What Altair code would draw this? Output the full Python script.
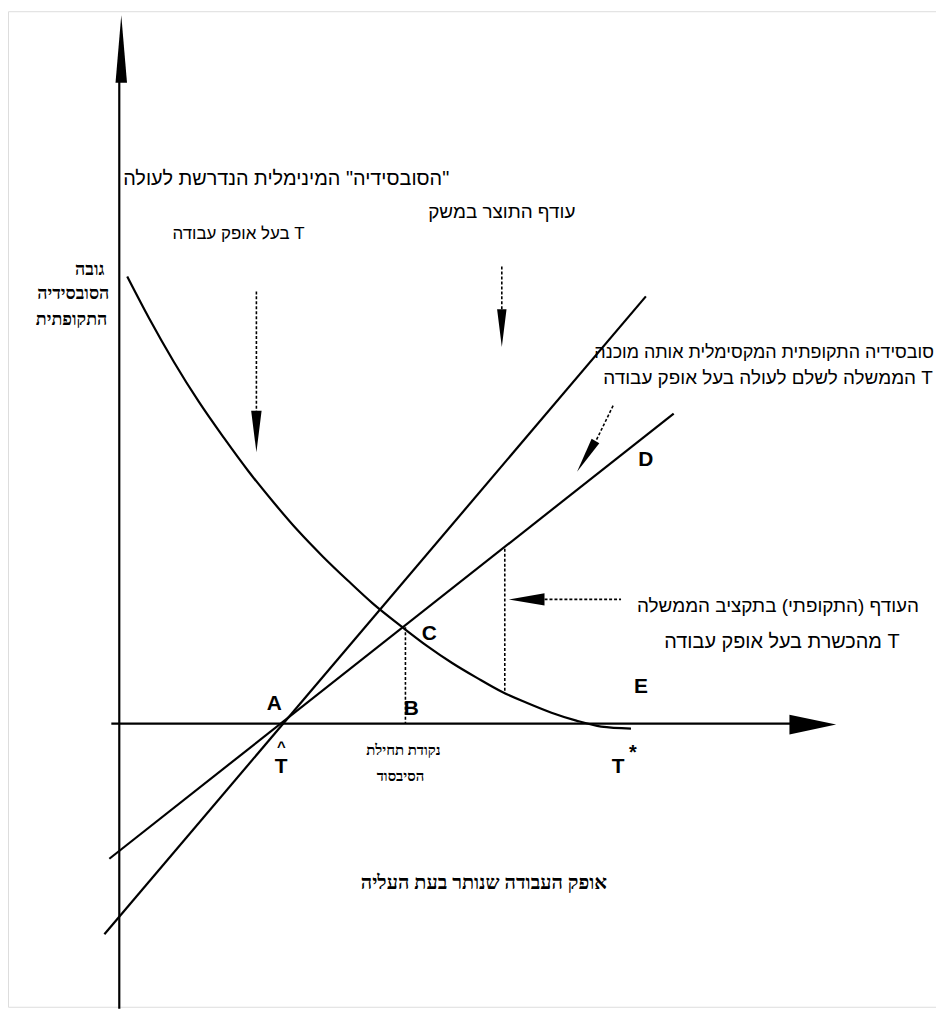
import altair as alt
import pandas as pd

# ---------------- data (diagram coordinates: origin at the axes' crossing) -------------
# declining curve: "minimum subsidy" required
curve_x = [8, 30, 55, 80, 105, 130, 155, 180, 205, 230, 255, 285, 310, 335, 360, 385, 410, 435, 460, 485, 515]
curve_y = [450, 408, 364, 324, 288, 254, 223, 194, 168, 144, 121, 97, 78, 61, 46, 32, 21, 11, 3, -3, -5]

# straight lines through A
steep_x = [-15, 530]
steep_y = [-212, 430]
flat_x = [-10, 558]
flat_y = [-136, 312]

# axes
yaxis_x = [0, 0]
yaxis_y = [-287, 650]
xaxis_x = [-8, 680]
xaxis_y = [0, 0]

# dashed guides: (x0, y0, x1, y1)
dashed_segments = [
    (288, 97, 288, 0),
    (388, 176, 388, 31),
    (138, 435, 138, 313),
    (385, 460, 385, 415),
    (497, 320, 480, 285),
    (428, 125, 505, 125),
]

# arrowheads
UP = "M0,-1L0.17,1L-0.17,1Z"
DOWN = "M0,1L0.25,-1L-0.25,-1Z"
RIGHT = "M1,0L-1,-0.42L-1,0.42Z"
LEFT = "M-1,0L1,-0.34L1,0.34Z"
head_x = [2, 698, 138, 385, 470, 410]
head_y = [679, -1, 294, 398, 269, 125]
head_shape = [UP, RIGHT, DOWN, DOWN, DOWN, LEFT]
head_len = [68, 47, 42, 38, 36, 36]
head_angle = [0, 0, 0, 0, 31, 0]

# point letters
letter_text = ["A", "B", "C", "D", "E", "T", "T"]
letter_x = [156, 294, 312, 530, 525, 163, 502]
letter_y = [20, 15, 90, 265, 37, -44, -44]

marks_text = ["^", "*"]
marks_x = [163, 517]
marks_y = [-24, -30]
marks_size = [15, 20]

# sans annotations (centered)
ann_text = [
    "\u200f\"הסובסידיה\" המינימלית הנדרשת לעולה",
    "בעל אופק עבודה T",
    "עודף התוצר במשק",
    "סובסידיה התקופתית המקסימלית אותה מוכנה",
    "הממשלה לשלם לעולה בעל אופק עבודה T",
    "העודף (התקופתי) בתקציב הממשלה",
    "מהכשרת בעל אופק עבודה T",
]
ann_x = [168, 120, 385, 649, 653, 663, 667]
ann_y = [548, 493, 515, 373, 348, 118, 82]
ann_size = [20, 17, 19, 18, 19, 19, 20]

# serif annotations
serif_text = ["נקודת תחילת", "הסיבסוד", "אופק העבודה שנותר בעת העליה"]
serif_x = [286, 283, 367]
serif_y = [-27, -53, -160]
serif_size = [15, 15, 20]

ylab_text = ["גובה", "הסובסידיה", "התקופתית"]
ylab_x = [-15, -10, -12]
ylab_y = [457, 432, 406]

# ---------------- build tables -------------
rows = []
def add(name, xs, ys):
    for i, (a, b) in enumerate(zip(xs, ys)):
        rows.append({"s": name, "i": i, "x": a, "y": b})
add("curve", curve_x, curve_y)
add("steep", steep_x, steep_y)
add("flat", flat_x, flat_y)
add("yaxis", yaxis_x, yaxis_y)
add("xaxis", xaxis_x, xaxis_y)
solid = pd.DataFrame(rows)

drows = []
for k, (a, b, c, d) in enumerate(dashed_segments):
    drows.append({"s": k, "i": 0, "x": a, "y": b})
    drows.append({"s": k, "i": 1, "x": c, "y": d})
dashed = pd.DataFrame(drows)

heads = pd.DataFrame({"x": head_x, "y": head_y, "shape": head_shape,
                      "size": [l * l for l in head_len], "angle": head_angle})

X = alt.Scale(domain=[-112, 822], nice=False, zero=False)
Y = alt.Scale(domain=[-285, 717], nice=False, zero=False)

def xy():
    return dict(x=alt.X("x:Q", scale=X, axis=None), y=alt.Y("y:Q", scale=Y, axis=None))

solid_layer = alt.Chart(solid).mark_line(color="black", strokeWidth=2.2, clip=False,
                                         interpolate="monotone").encode(
    detail="s:N", order="i:Q", **xy())

dashed_layer = alt.Chart(dashed).mark_line(color="black", strokeWidth=1.6, strokeDash=[3, 2]).encode(
    detail="s:N", order="i:Q", **xy())

head_layer = alt.Chart(heads).mark_point(filled=True, color="black", opacity=1, strokeWidth=0).encode(
    shape=alt.Shape("shape:N", scale=None),
    size=alt.Size("size:Q", scale=None),
    angle=alt.Angle("angle:Q", scale=None),
    **xy())

def text_layer(texts, xs, ys, **kw):
    df = pd.DataFrame({"t": texts, "x": xs, "y": ys})
    return alt.Chart(df).mark_text(color="black", baseline="middle", **kw).encode(
        text="t:N", **xy())

def sized_text(texts, xs, ys, sizes, **kw):
    df = pd.DataFrame({"t": texts, "x": xs, "y": ys, "fs": sizes})
    return alt.Chart(df).mark_text(color="black", baseline="middle", **kw).encode(
        text="t:N", size=alt.Size("fs:Q", scale=None), **xy())

letters = text_layer(letter_text, letter_x, letter_y, font="Liberation Sans",
                     fontWeight="bold", fontSize=21)
marks = sized_text(marks_text, marks_x, marks_y, marks_size, font="Liberation Sans", fontWeight="bold")
ann = sized_text(ann_text, ann_x, ann_y, ann_size, font="Liberation Sans", align="center")
serif = sized_text(serif_text, serif_x, serif_y, serif_size, font="Liberation Serif", fontWeight="bold")
ylab = text_layer(ylab_text, ylab_x, ylab_y, font="Liberation Serif", fontSize=18,
                  fontWeight="bold", align="right")

chart = alt.layer(solid_layer, dashed_layer, head_layer, letters, marks, ann, serif, ylab).properties(
    width=934, height=1002,
    autosize=alt.AutoSizeParams(type="none"),
    padding={"left": 0, "right": 0, "top": 0, "bottom": 0},
).configure_view(stroke=None).configure(background="white")

chart.save("out.html", embed_options={"renderer": "svg", "actions": False})
